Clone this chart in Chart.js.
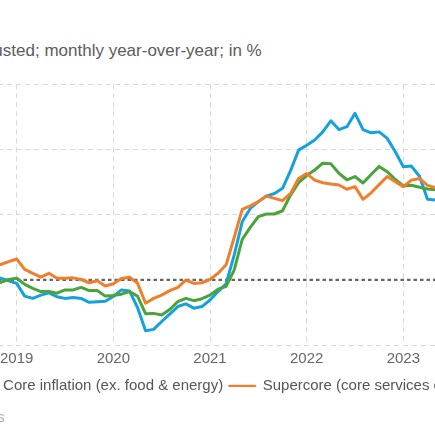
<!DOCTYPE html>
<html>
<head>
<meta charset="utf-8">
<script src="https://cdn.jsdelivr.net/npm/chart.js@4.4.1/dist/chart.umd.min.js"></script>
<style>
  html, body { margin: 0; padding: 0; background: #ffffff; width: 435px; height: 435px; overflow: hidden; }
  #wrap { position: relative; width: 435px; height: 435px; overflow: hidden; background: #ffffff; }
  #chartBox { position: absolute; left: -191px; top: 0; width: 720px; height: 420px; }
  #chartBox canvas { width: 720px; height: 420px; }
  #subtitle { position: absolute; right: 173.3px; top: 41px; font: 17px/20px 'Liberation Sans', Arial, sans-serif; color: #5c5c5c; white-space: nowrap; }
  #source { position: absolute; right: 430.5px; top: 409px; font: 14px/16px 'Liberation Sans', Arial, sans-serif; color: #ababab; white-space: nowrap; }
</style>
</head>
<body>
<div id="wrap">
  <div id="subtitle">Seasonally adjusted; monthly year-over-year; in %</div>
  <div id="chartBox"><canvas id="c" width="720" height="420"></canvas></div>
  <div id="source">Source: Bureau of Economic Analysis</div>
</div>
<script>
// ---- data ----
const months = [
  '2018-10','2018-11','2018-12',
  '2019-01','2019-02','2019-03','2019-04','2019-05','2019-06','2019-07','2019-08','2019-09','2019-10','2019-11','2019-12',
  '2020-01','2020-02','2020-03','2020-04','2020-05','2020-06','2020-07','2020-08','2020-09','2020-10','2020-11','2020-12',
  '2021-01','2021-02','2021-03','2021-04','2021-05','2021-06','2021-07','2021-08','2021-09','2021-10','2021-11','2021-12',
  '2022-01','2022-02','2022-03','2022-04','2022-05','2022-06','2022-07','2022-08','2022-09','2022-10','2022-11','2022-12',
  '2023-01','2023-02','2023-03','2023-04','2023-05'
];
const headline = [
  2.10, 2.05, 1.97,
  1.89, 1.50, 1.43, 1.53, 1.60, 1.48, 1.43, 1.46, 1.43, 1.31, 1.33, 1.34,
  1.49, 1.69, 1.66, 1.15, 0.44, 0.48, 0.72, 0.95, 1.18, 1.26, 1.13, 1.18,
  1.38, 1.64, 1.88, 2.76, 3.78, 4.19, 4.40, 4.57, 4.65, 4.81, 5.35, 5.98,
  6.13, 6.29, 6.54, 6.88, 6.61, 6.70, 7.11, 6.61, 6.51, 6.54, 6.34, 5.93,
  5.47, 5.49, 5.18, 4.47, 4.45
];
const core = [
  1.90, 1.92, 2.01,
  2.05, 1.86, 1.74, 1.64, 1.64, 1.59, 1.69, 1.69, 1.77, 1.67, 1.67, 1.50,
  1.52, 1.56, 1.64, 1.50, 0.96, 0.97, 0.92, 1.09, 1.33, 1.43, 1.36, 1.42,
  1.53, 1.71, 1.80, 2.30, 3.24, 3.61, 3.94, 4.02, 4.02, 4.12, 4.60, 4.98,
  5.20, 5.37, 5.58, 5.56, 5.27, 5.07, 5.17, 4.97, 5.23, 5.48, 5.32, 5.08,
  4.88, 4.90, 4.84, 4.79, 4.76
];
const supercore = [
  2.40, 2.47, 2.56,
  2.64, 2.32, 2.20, 2.08, 2.20, 2.05, 2.05, 2.06, 2.01, 1.91, 1.97, 1.81,
  1.88, 2.04, 2.08, 1.90, 1.28, 1.43, 1.53, 1.67, 1.77, 1.99, 1.89, 1.91,
  2.01, 2.20, 2.46, 3.30, 4.16, 4.27, 4.40, 4.57, 4.50, 4.43, 4.65, 5.11,
  5.26, 5.06, 4.98, 4.94, 4.91, 4.78, 4.86, 4.47, 4.67, 4.92, 5.17, 5.01,
  4.86, 5.06, 5.11, 4.90, 4.83
];
const seriesNames = ['Headline inflation', 'Core inflation (ex. food & energy)', 'Supercore (core services ex. housing)'];
const yearLabels = ['2019', '2020', '2021', '2022', '2023'];
const yTicks = [0, 2, 4, 6, 8];
const targetRate = 2;

// ---- helpers ----
const baseYear = 2019;
const monthIndex = s => { const [y, m] = s.split('-').map(Number); return (y - baseYear) * 12 + (m - 1); };
const yearTickValues = yearLabels.map(y => (Number(y) - baseYear) * 12);
const toPoints = arr => arr.map((v, i) => ({ x: monthIndex(months[i]), y: v }));

Chart.defaults.font.family = "'Liberation Sans', Arial, sans-serif";

const targetLine = {
  id: 'targetLine',
  beforeDatasetsDraw(chart) {
    const { ctx, chartArea, scales } = chart;
    const y = scales.y.getPixelForValue(targetRate);
    ctx.save();
    ctx.strokeStyle = '#666666';
    ctx.lineWidth = 2.3;
    ctx.setLineDash([3.5, 3]);
    ctx.beginPath();
    ctx.moveTo(chartArea.left, y);
    ctx.lineTo(chartArea.right, y);
    ctx.stroke();
    ctx.restore();
  }
};

const gridColor = '#d9d9d9';

new Chart(document.getElementById('c'), {
  type: 'line',
  data: {
    datasets: [
      { label: seriesNames[0], data: toPoints(headline), borderColor: '#16a0dc', backgroundColor: '#16a0dc', order: 2 },
      { label: seriesNames[1], data: toPoints(core), borderColor: '#4ba33b', backgroundColor: '#4ba33b', order: 1 },
      { label: seriesNames[2], data: toPoints(supercore), borderColor: '#ef7f2c', backgroundColor: '#ef7f2c', order: 0 }
    ]
  },
  options: {
    responsive: false,
    animation: false,
    devicePixelRatio: 1,
    layout: { padding: { top: 84.3, bottom: 16.7, left: 0, right: 0 } },
    elements: {
      line: { borderWidth: 3, tension: 0, borderCapStyle: 'round', borderJoinStyle: 'round', fill: false },
      point: { radius: 0, hoverRadius: 0 }
    },
    scales: {
      x: {
        type: 'linear',
        min: -25.78,
        max: 63.60,
        afterBuildTicks: s => { s.ticks = yearTickValues.map(v => ({ value: v })); },
        afterFit: s => { s.height = 27.3; },
        ticks: {
          autoSkip: false,
          maxRotation: 0,
          padding: 5,
          color: '#666666',
          font: { size: 15 },
          callback: v => yearLabels[yearTickValues.indexOf(v)]
        },
        grid: { color: gridColor, lineWidth: 1, drawTicks: false },
        border: { display: false, dash: [5, 4] }
      },
      y: {
        min: 0,
        max: 8,
        afterBuildTicks: s => { s.ticks = yTicks.map(v => ({ value: v })); },
        ticks: { display: false },
        grid: {
          color: c => (c.tick && c.tick.value === targetRate) ? 'rgba(0,0,0,0)' : gridColor,
          lineWidth: 1,
          drawTicks: false
        },
        border: { display: false, dash: [5, 4] }
      }
    },
    plugins: {
      legend: {
        position: 'bottom',
        align: 'start',
        labels: {
          boxWidth: 26,
          boxHeight: 0,
          padding: 6,
          color: '#555555',
          font: { size: 15 },
          sort: (a, b) => a.datasetIndex - b.datasetIndex,
          generateLabels: chart => Chart.defaults.plugins.legend.labels.generateLabels(chart).map(l => Object.assign(l, { lineWidth: 2.2, lineCap: 'butt' }))
        }
      },
      tooltip: { enabled: false },
      title: { display: false }
    }
  },
  plugins: [targetLine]
});
</script>
</body>
</html>
